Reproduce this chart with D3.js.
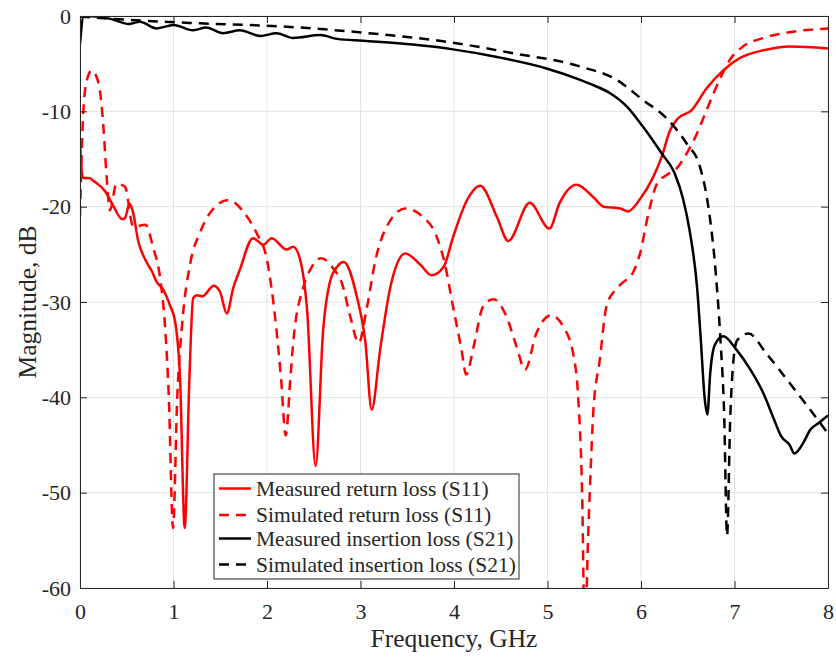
<!DOCTYPE html>
<html>
<head>
<meta charset="utf-8">
<script src="https://cdn.jsdelivr.net/npm/d3@7"></script>
<style>
  html, body { margin: 0; padding: 0; background: #fff; }
  svg { display: block; }
  text { font-family: "Liberation Serif", "Times New Roman", serif; fill: #262626; }
</style>
</head>
<body>
<svg id="chart" width="836" height="657"></svg>
<script>
// Frequency sweep points (GHz) and magnitudes (dB) for each trace
const measS11Freq = [0, 0.03, 0.09, 0.16, 0.27, 0.36, 0.45, 0.48, 0.53, 0.57, 0.62, 0.70, 0.77, 0.82, 0.89, 0.96, 1.02, 1.07, 1.12, 1.17, 1.21, 1.25, 1.31, 1.43, 1.50, 1.57, 1.64, 1.71, 1.85, 1.96, 2.05, 2.21, 2.28, 2.35, 2.43, 2.52, 2.60, 2.67, 2.75, 2.82, 2.96, 3.05, 3.12, 3.21, 3.32, 3.48, 3.64, 3.76, 3.89, 3.99, 4.14, 4.28, 4.46, 4.58, 4.81, 5.02, 5.13, 5.31, 5.49, 5.60, 5.78, 5.86, 5.99, 6.13, 6.22, 6.31, 6.40, 6.54, 6.70, 6.88, 7.06, 7.31, 7.59, 8.0];
const measS11dB   = [-13.2, -17.0, -17.0, -17.4, -18.4, -20.0, -21.3, -21.2, -19.7, -20.7, -23.5, -25.6, -26.8, -27.9, -28.7, -30.3, -32.2, -38.0, -53.7, -38.0, -29.6, -29.3, -29.4, -28.3, -29.0, -31.2, -28.5, -26.6, -23.3, -24.0, -23.3, -24.5, -24.2, -25.4, -31.0, -47.2, -33.0, -28.0, -26.3, -25.8, -29.4, -34.0, -41.3, -35.0, -28.4, -24.9, -26.1, -27.2, -26.3, -23.2, -19.3, -17.8, -21.1, -23.6, -19.6, -22.3, -19.6, -17.7, -19.0, -20.0, -20.2, -20.5, -19.2, -16.9, -14.8, -12.0, -10.7, -9.9, -7.6, -5.7, -4.4, -3.6, -3.2, -3.4];

const simS11Freq = [0, 0.036, 0.07, 0.125, 0.2, 0.25, 0.285, 0.32, 0.39, 0.48, 0.57, 0.70, 0.78, 0.86, 0.91, 0.95, 0.995, 1.04, 1.09, 1.18, 1.28, 1.41, 1.59, 1.76, 1.89, 2.0, 2.09, 2.15, 2.20, 2.25, 2.28, 2.39, 2.48, 2.58, 2.71, 2.80, 2.89, 2.98, 3.07, 3.16, 3.28, 3.48, 3.67, 3.80, 3.90, 3.99, 4.08, 4.13, 4.21, 4.31, 4.42, 4.56, 4.67, 4.76, 4.88, 5.04, 5.17, 5.28, 5.33, 5.37, 5.40, 5.43, 5.46, 5.49, 5.56, 5.63, 5.72, 5.80, 5.92, 5.99, 6.08, 6.17, 6.27, 6.38, 6.49, 6.60, 6.70, 6.84, 6.95, 7.09, 7.31, 7.59, 8.0];
const simS11dB   = [-21.0, -9.9, -6.9, -5.7, -7.1, -11.6, -16.9, -20.4, -17.6, -17.9, -22.1, -21.9, -24.2, -27.7, -32.6, -40.0, -53.7, -40.0, -32.6, -25.9, -22.8, -20.4, -19.3, -20.7, -22.8, -25.6, -31.9, -38.0, -44.0, -38.0, -34.3, -28.4, -26.3, -25.4, -26.5, -28.0, -31.5, -34.3, -30.5, -25.6, -22.1, -20.2, -21.1, -22.8, -25.9, -30.5, -35.0, -37.6, -34.7, -30.5, -29.7, -31.5, -34.7, -37.1, -33.3, -31.4, -32.6, -35.7, -40.3, -50.0, -66.0, -56.0, -48.0, -41.5, -36.0, -30.5, -28.8, -28.0, -26.8, -24.9, -20.7, -17.6, -16.7, -16.0, -14.4, -12.3, -9.9, -6.7, -4.6, -3.2, -2.3, -1.7, -1.3];

const measS21Freq = [0, 0.04, 0.21, 0.36, 0.52, 0.64, 0.82, 1.0, 1.21, 1.35, 1.53, 1.71, 1.93, 2.10, 2.28, 2.57, 2.75, 3.03, 3.56, 3.99, 4.46, 4.99, 5.35, 5.45, 5.67, 5.85, 6.02, 6.22, 6.36, 6.45, 6.52, 6.60, 6.64, 6.68, 6.71, 6.74, 6.79, 6.88, 7.02, 7.17, 7.31, 7.41, 7.50, 7.59, 7.64, 7.74, 7.81, 7.90, 8.0];
const measS21dB   = [-2.9, 0, -0.07, -0.4, -0.84, -0.6, -1.3, -0.94, -1.5, -1.2, -1.8, -1.5, -2.1, -1.8, -2.3, -2.0, -2.4, -2.6, -3.0, -3.5, -4.3, -5.5, -6.7, -7.1, -8.1, -9.5, -11.6, -14.4, -16.5, -19.2, -22.5, -28.5, -34.0, -40.0, -41.8, -37.5, -34.5, -33.6, -35.0, -37.1, -39.6, -42.0, -44.1, -45.0, -45.9, -44.7, -43.4, -42.7, -41.9];

const simS21Freq = [0, 0.68, 1.28, 2.17, 3.03, 3.92, 4.63, 5.35, 5.74, 6.02, 6.27, 6.49, 6.63, 6.72, 6.80, 6.85, 6.89, 6.92, 6.955, 6.99, 7.03, 7.15, 7.34, 7.59, 7.81, 8.0];
const simS21dB   = [-0.05, -0.5, -0.77, -1.1, -1.75, -2.7, -3.9, -5.3, -6.7, -8.8, -10.7, -13.4, -15.8, -20.0, -27.0, -34.0, -42.0, -54.5, -42.0, -36.0, -34.0, -33.3, -35.4, -38.5, -41.3, -43.8];

const xTicks = [0, 1, 2, 3, 4, 5, 6, 7, 8];
const yTicks = [-60, -50, -40, -30, -20, -10, 0];

const legendLabels = [
  "Measured return loss (S11)",
  "Simulated return loss (S11)",
  "Measured insertion loss (S21)",
  "Simulated insertion loss (S21)"
];

const traces = [
  { freq: measS11Freq, db: measS11dB, color: "#ff0000", dash: null },
  { freq: simS11Freq,  db: simS11dB,  color: "#ff0000", dash: "10,7" },
  { freq: measS21Freq, db: measS21dB, color: "#000000", dash: null },
  { freq: simS21Freq,  db: simS21dB,  color: "#000000", dash: "10,7" }
];

const W = 836, H = 657;
const margin = { left: 80, top: 16, right: 8, bottom: 69 };
const iw = W - margin.left - margin.right;
const ih = H - margin.top - margin.bottom;

const svg = d3.select("#chart");
const g = svg.append("g").attr("transform", `translate(${margin.left},${margin.top})`);

const x = d3.scaleLinear().domain([0, 8]).range([0, iw]);
const y = d3.scaleLinear().domain([-60, 0]).range([ih, 0]);

// grid
g.append("g").selectAll("line.vx").data(xTicks).join("line")
  .attr("x1", d => x(d)).attr("x2", d => x(d)).attr("y1", 0).attr("y2", ih)
  .attr("stroke", "#e3e3e3").attr("stroke-width", 1);
g.append("g").selectAll("line.hy").data(yTicks).join("line")
  .attr("x1", 0).attr("x2", iw).attr("y1", d => y(d)).attr("y2", d => y(d))
  .attr("stroke", "#e3e3e3").attr("stroke-width", 1);

// traces
svg.append("defs").append("clipPath").attr("id", "plotclip")
  .append("rect").attr("width", iw).attr("height", ih);

const line = d3.line()
  .x(d => x(d[0])).y(d => y(d[1]))
  .curve(d3.curveMonotoneX);

const lines = g.append("g").attr("clip-path", "url(#plotclip)");
traces.forEach(t => {
  const pts = t.freq.map((f, i) => [f, t.db[i]]);
  lines.append("path")
    .attr("d", line(pts))
    .attr("fill", "none")
    .attr("stroke", t.color)
    .attr("stroke-width", 2.5)
    .attr("stroke-linejoin", "round")
    .attr("stroke-dasharray", t.dash);
});

// axes (box with inward ticks on all sides)
const tickLen = 7;
const axisColor = "#262626";
const xBottom = d3.axisBottom(x).tickValues(xTicks).tickSizeInner(-tickLen).tickSizeOuter(0).tickPadding(15).tickFormat(d3.format("d"));
const xTop = d3.axisTop(x).tickValues(xTicks).tickSizeInner(-tickLen).tickSizeOuter(0).tickFormat("");
const yLeft = d3.axisLeft(y).tickValues(yTicks).tickSizeInner(-tickLen).tickSizeOuter(0).tickPadding(9).tickFormat(d => String(d));
const yRight = d3.axisRight(y).tickValues(yTicks).tickSizeInner(-tickLen).tickSizeOuter(0).tickFormat("");

function styleAxis(sel) {
  sel.select(".domain").attr("stroke", axisColor).attr("stroke-width", 1);
  sel.selectAll(".tick line").attr("stroke", axisColor).attr("stroke-width", 1);
  sel.selectAll(".tick text").attr("fill", axisColor).attr("font-family", "Liberation Serif, serif").attr("font-size", 22);
}
g.append("g").attr("transform", `translate(0,${ih})`).call(xBottom).call(styleAxis);
g.append("g").call(xTop).call(styleAxis);
g.append("g").call(yLeft).call(styleAxis);
g.append("g").attr("transform", `translate(${iw},0)`).call(yRight).call(styleAxis);

// axis titles
svg.append("text")
  .attr("x", margin.left + iw / 2).attr("y", 647)
  .attr("text-anchor", "middle").attr("font-size", 25.5)
  .text("Frequency, GHz");
svg.append("text")
  .attr("transform", `translate(36,${margin.top + ih / 2}) rotate(-90)`)
  .attr("text-anchor", "middle").attr("font-size", 25.5)
  .text("Magnitude, dB");

// legend
const lg = svg.append("g").attr("transform", "translate(214,474)");
lg.append("rect").attr("width", 305).attr("height", 105)
  .attr("fill", "#fff").attr("stroke", axisColor).attr("stroke-width", 1);
const rowY = [14.5, 41, 64.5, 90.5];
legendLabels.forEach((lab, i) => {
  const t = traces[i];
  lg.append("line").attr("x1", 5).attr("x2", 37).attr("y1", rowY[i]).attr("y2", rowY[i])
    .attr("stroke", t.color).attr("stroke-width", 2.5).attr("stroke-dasharray", t.dash);
  lg.append("text").attr("x", 42).attr("y", rowY[i] + 7).attr("font-size", 21.5).text(lab);
});
</script>
</body>
</html>
